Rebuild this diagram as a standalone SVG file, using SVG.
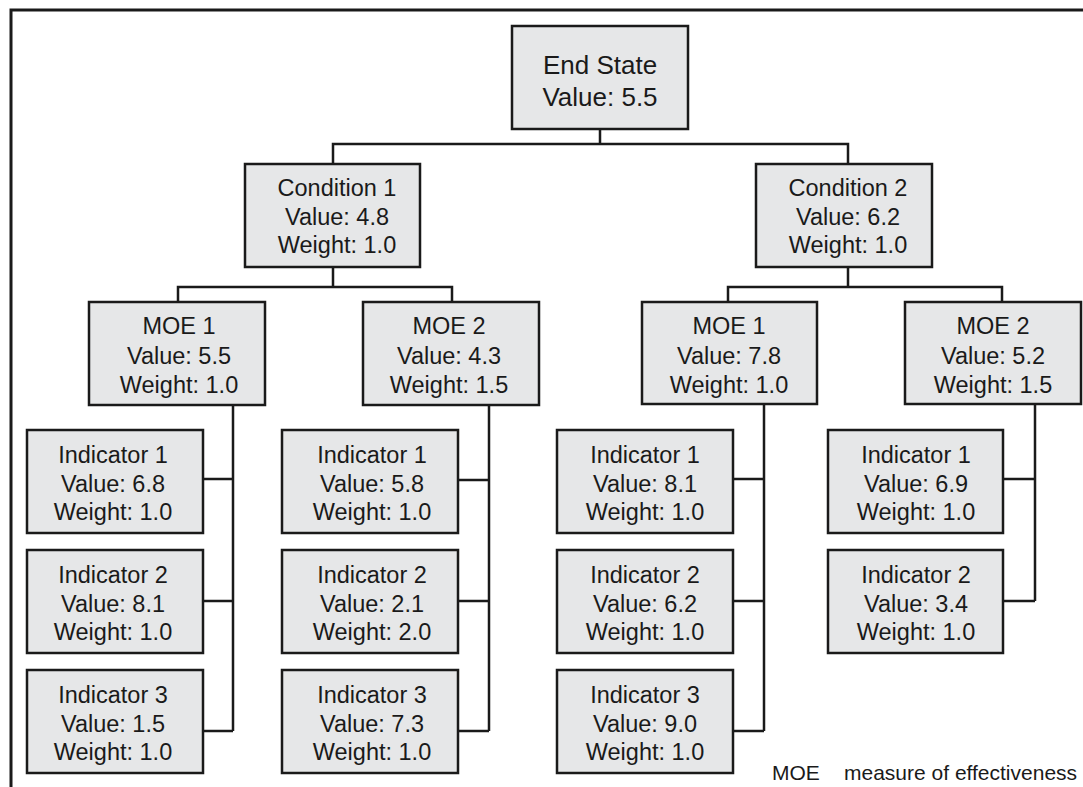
<svg xmlns="http://www.w3.org/2000/svg" width="1083" height="787" viewBox="0 0 1083 787">
<style>
.box{fill:#e6e7e8;stroke:#1a1a1a;stroke-width:2.5}
.t{font-family:"Liberation Sans",Arial,sans-serif;font-size:23.5px;fill:#1a1a1a;text-anchor:middle}
.big{font-size:26px}
.leg{font-family:"Liberation Sans",Arial,sans-serif;font-size:21px;fill:#1a1a1a}
.c{fill:none;stroke:#1a1a1a;stroke-width:2.5}
</style>
<rect width="1083" height="787" fill="#ffffff"/>
<path class="c" d="M11,787 V10 H1083" style="stroke-width:3"/>
<g id="connectors">
<path class="c" d="M600,129 V144 M333,164 V144 H848 V164"/>
<path class="c" d="M333,267 V287 M178,302 V287 H452 V302"/>
<path class="c" d="M848,267 V287 M728,302 V287 H1002 V302"/>
<path class="c" d="M233,405 V731 M203,479 H233 M203,601 H233 M203,731 H233"/>
<path class="c" d="M489,405 V731 M458,480 H489 M458,601 H489 M458,731 H489"/>
<path class="c" d="M764,404 V731 M733,479 H764 M733,601 H764 M733,731 H764"/>
<path class="c" d="M1035,404 V601 M1003,479 H1035 M1003,601 H1035"/>
</g>
<g id="end-state"><rect class="box" x="512" y="26" width="176" height="103"/><text class="t big" x="600" y="74">End State</text><text class="t big" x="600" y="106">Value: 5.5</text></g>
<g id="condition-1"><rect class="box" x="245" y="164" width="175" height="103"/><text class="t" x="337" y="196">Condition 1</text><text class="t" x="337" y="225">Value: 4.8</text><text class="t" x="337" y="253">Weight: 1.0</text></g>
<g id="condition-2"><rect class="box" x="756" y="164" width="176" height="103"/><text class="t" x="848" y="196">Condition 2</text><text class="t" x="848" y="225">Value: 6.2</text><text class="t" x="848" y="253">Weight: 1.0</text></g>
<g id="c1-moe-1"><rect class="box" x="89" y="302" width="176" height="103"/><text class="t" x="179" y="334">MOE 1</text><text class="t" x="179" y="364">Value: 5.5</text><text class="t" x="179" y="393">Weight: 1.0</text></g>
<g id="c1-moe-2"><rect class="box" x="363" y="302" width="176" height="103"/><text class="t" x="449" y="334">MOE 2</text><text class="t" x="449" y="364">Value: 4.3</text><text class="t" x="449" y="393">Weight: 1.5</text></g>
<g id="c2-moe-1"><rect class="box" x="642" y="302" width="175" height="102"/><text class="t" x="729" y="334">MOE 1</text><text class="t" x="729" y="364">Value: 7.8</text><text class="t" x="729" y="393">Weight: 1.0</text></g>
<g id="c2-moe-2"><rect class="box" x="905" y="302" width="176" height="102"/><text class="t" x="993" y="334">MOE 2</text><text class="t" x="993" y="364">Value: 5.2</text><text class="t" x="993" y="393">Weight: 1.5</text></g>
<g id="g1-ind-1"><rect class="box" x="27" y="430" width="176" height="103"/><text class="t" x="113" y="463">Indicator 1</text><text class="t" x="113" y="492">Value: 6.8</text><text class="t" x="113" y="520">Weight: 1.0</text></g>
<g id="g1-ind-2"><rect class="box" x="27" y="550" width="176" height="103"/><text class="t" x="113" y="583">Indicator 2</text><text class="t" x="113" y="612">Value: 8.1</text><text class="t" x="113" y="640">Weight: 1.0</text></g>
<g id="g1-ind-3"><rect class="box" x="27" y="670" width="176" height="103"/><text class="t" x="113" y="703">Indicator 3</text><text class="t" x="113" y="732">Value: 1.5</text><text class="t" x="113" y="760">Weight: 1.0</text></g>
<g id="g2-ind-1"><rect class="box" x="282" y="430" width="176" height="103"/><text class="t" x="372" y="463">Indicator 1</text><text class="t" x="372" y="492">Value: 5.8</text><text class="t" x="372" y="520">Weight: 1.0</text></g>
<g id="g2-ind-2"><rect class="box" x="282" y="550" width="176" height="103"/><text class="t" x="372" y="583">Indicator 2</text><text class="t" x="372" y="612">Value: 2.1</text><text class="t" x="372" y="640">Weight: 2.0</text></g>
<g id="g2-ind-3"><rect class="box" x="282" y="670" width="176" height="103"/><text class="t" x="372" y="703">Indicator 3</text><text class="t" x="372" y="732">Value: 7.3</text><text class="t" x="372" y="760">Weight: 1.0</text></g>
<g id="g3-ind-1"><rect class="box" x="557" y="430" width="176" height="103"/><text class="t" x="645" y="463">Indicator 1</text><text class="t" x="645" y="492">Value: 8.1</text><text class="t" x="645" y="520">Weight: 1.0</text></g>
<g id="g3-ind-2"><rect class="box" x="557" y="550" width="176" height="103"/><text class="t" x="645" y="583">Indicator 2</text><text class="t" x="645" y="612">Value: 6.2</text><text class="t" x="645" y="640">Weight: 1.0</text></g>
<g id="g3-ind-3"><rect class="box" x="557" y="670" width="176" height="103"/><text class="t" x="645" y="703">Indicator 3</text><text class="t" x="645" y="732">Value: 9.0</text><text class="t" x="645" y="760">Weight: 1.0</text></g>
<g id="g4-ind-1"><rect class="box" x="828" y="430" width="175" height="103"/><text class="t" x="916" y="463">Indicator 1</text><text class="t" x="916" y="492">Value: 6.9</text><text class="t" x="916" y="520">Weight: 1.0</text></g>
<g id="g4-ind-2"><rect class="box" x="828" y="550" width="175" height="103"/><text class="t" x="916" y="583">Indicator 2</text><text class="t" x="916" y="612">Value: 3.4</text><text class="t" x="916" y="640">Weight: 1.0</text></g>
<g id="legend"><text class="leg" x="772" y="780">MOE</text><text class="leg" x="844" y="780">measure of effectiveness</text></g>
</svg>
